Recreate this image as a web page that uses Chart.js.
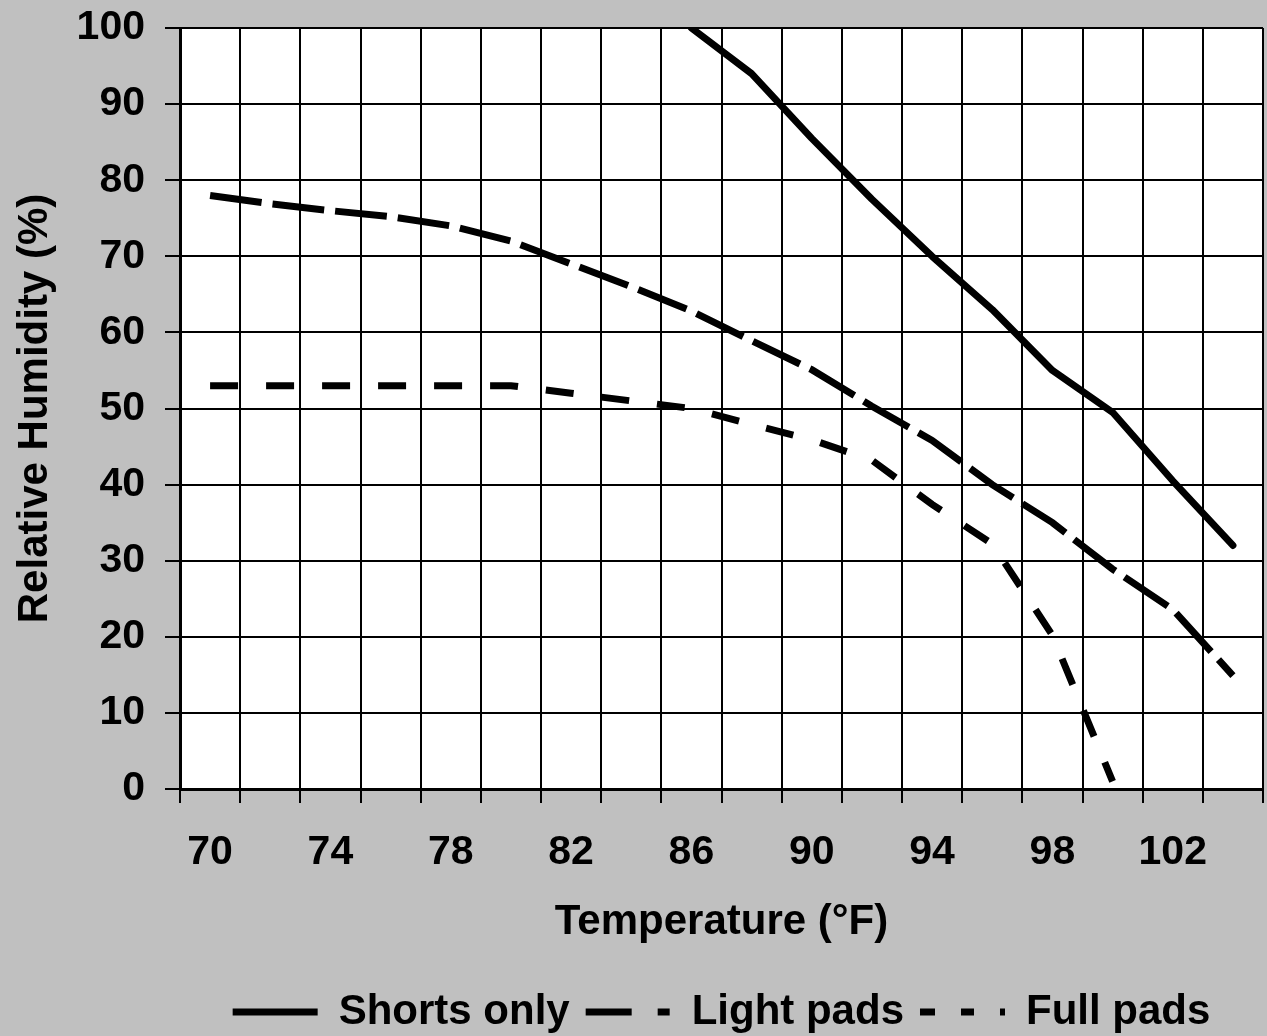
<!DOCTYPE html>
<html>
<head>
<meta charset="utf-8">
<script src="https://cdn.jsdelivr.net/npm/chart.js@4.4.1/dist/chart.umd.min.js"></script>
<style>
    body { margin: 0; background: #c0c0c0; }
    #wrap { width: 1267px; height: 1036px; position: relative; }
</style>
</head>
<body>
<div id="wrap"><canvas id="humidity"></canvas></div>
<script>
// DATA
const temperatures = ['70', '72', '74', '76', '78', '80', '82', '84', '86', '88', '90', '92', '94', '96', '98', '100', '102', '104'];
const shortsOnly = [null, null, null, null, null, null, null, null, 100, 94, 85.5, 77.5, 70, 63, 55, 49.5, 40.5, 32];
const lightPads = [78, 76.9, 76, 75.2, 74, 72, 69, 66, 62.8, 58.9, 55.1, 50.3, 45.8, 40, 35, 28.9, 23.6, 14.9];
const fullPads = [53, 53, 53, 53, 53, 53, 52, 51, 50, 47.9, 45.9, 43.2, 37.4, 32.2, 20.2, 1, null, null];
const seriesNames = ['Shorts only', 'Light pads', 'Full pads'];
const humidityTicks = [0, 10, 20, 30, 40, 50, 60, 70, 80, 90, 100];

const FONT = "'Liberation Sans', Arial, sans-serif";
const LEGEND_H = 61;

// legend samples are shorter than the plotted lines, so they get their own dashes
const legendDashes = [[], [46, 26, 12, 100], [15, 26, 13, 26, 5, 100]];

const plotBackground = {
    id: 'plotBackground',
    beforeDraw(chart) {
        const { ctx, chartArea } = chart;
        ctx.save();
        ctx.fillStyle = '#ffffff';
        ctx.fillRect(chartArea.left, chartArea.top, chartArea.right - chartArea.left, chartArea.bottom - chartArea.top);
        ctx.restore();
    }
};

const legendHeight = {
    id: 'legendHeight',
    afterInit(chart) {
        const legend = chart.legend;
        const fit = legend.fit;
        legend.fit = function () {
            fit.call(this);
            this.height = LEGEND_H;
        };
    }
};

const humidityCtx = document.getElementById('humidity');

new Chart(humidityCtx, {
    type: 'line',
    data: {
        labels: temperatures,
        datasets: [
            {
                label: seriesNames[0],
                data: shortsOnly,
                borderColor: '#000000',
                backgroundColor: '#000000',
                borderWidth: 7,
                borderCapStyle: 'round',
                borderJoinStyle: 'round',
                pointRadius: 0,
            },
            {
                label: seriesNames[1],
                data: lightPads,
                borderColor: '#000000',
                backgroundColor: '#000000',
                borderWidth: 7,
                borderDash: [52, 11],
                borderCapStyle: 'butt',
                pointRadius: 0,
            },
            {
                label: seriesNames[2],
                data: fullPads,
                borderColor: '#000000',
                backgroundColor: '#000000',
                borderWidth: 7,
                borderDash: [28, 28],
                borderCapStyle: 'butt',
                pointRadius: 0,
            },
        ]
    },
    options: {
        responsive: true,
        maintainAspectRatio: false,
        animation: false,
        layout: {
            padding: { top: 28, right: 4, bottom: 0, left: 0 }
        },
        plugins: {
            tooltip: { enabled: false },
            legend: {
                position: 'bottom',
                fullSize: false,
                labels: {
                    color: '#000000',
                    font: { family: FONT, size: 42, weight: 'bold' },
                    usePointStyle: true,
                    pointStyle: 'line',
                    pointStyleWidth: 85,
                    padding: 16,
                    generateLabels(chart) {
                        const items = Chart.defaults.plugins.legend.labels.generateLabels(chart);
                        items.forEach((item, i) => {
                            item.lineDash = legendDashes[i];
                            item.lineWidth = 7;
                        });
                        return items;
                    }
                }
            }
        },
        scales: {
            x: {
                type: 'category',
                offset: true,
                afterFit(scale) { scale.height = 186; },
                grid: {
                    offset: true,
                    color: '#000000',
                    lineWidth: 2,
                    tickLength: 14,
                    tickColor: '#000000',
                    tickWidth: 2,
                },
                border: { display: true, color: '#000000', width: 3 },
                ticks: {
                    autoSkip: false,
                    maxRotation: 0,
                    minRotation: 0,
                    padding: 25,
                    color: '#000000',
                    font: { family: FONT, size: 41, weight: 'bold' },
                    callback(value, index) {
                        return index % 2 === 0 ? this.getLabelForValue(value) : '';
                    }
                },
                title: {
                    display: true,
                    text: 'Temperature (°F)',
                    color: '#000000',
                    font: { family: FONT, size: 42, weight: 'bold' },
                    padding: { top: 0, bottom: 27 }
                }
            },
            y: {
                type: 'linear',
                min: 0,
                max: 100,
                afterFit(scale) {
                    scale.width = 180;
                    scale.paddingTop = 0;
                    scale.paddingBottom = 0;
                },
                afterBuildTicks(scale) {
                    scale.ticks = humidityTicks.map(v => ({ value: v }));
                },
                grid: {
                    color: '#000000',
                    lineWidth: 2,
                    tickLength: 15,
                    tickColor: '#000000',
                    tickWidth: 2,
                },
                border: { display: true, color: '#000000', width: 3 },
                ticks: {
                    padding: 20,
                    color: '#000000',
                    font: { family: FONT, size: 41, weight: 'bold' },
                },
                title: {
                    display: true,
                    text: 'Relative Humidity (%)',
                    color: '#000000',
                    font: { family: FONT, size: 42, weight: 'bold' },
                    padding: { top: 10, bottom: 0 }
                }
            }
        }
    },
    plugins: [plotBackground, legendHeight]
});
</script>
</body>
</html>
